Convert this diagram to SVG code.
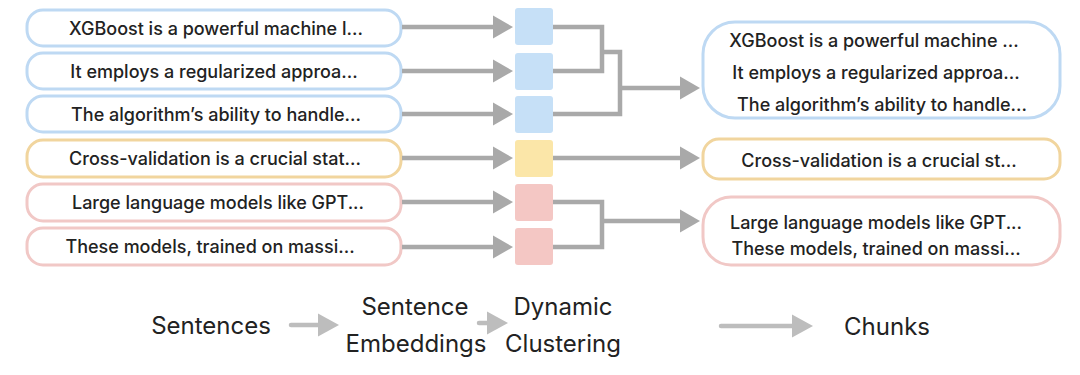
<svg xmlns="http://www.w3.org/2000/svg" width="1080" height="375" viewBox="0 0 1080 375">
<defs>
<marker id="ah" markerUnits="userSpaceOnUse" markerWidth="20" markerHeight="24" refX="0" refY="12" orient="auto">
<path d="M0,0.5 L20,12 L0,23.5 z" fill="#a9a9a9"/>
</marker>
<marker id="ah2" markerUnits="userSpaceOnUse" markerWidth="22" markerHeight="24" refX="0" refY="12" orient="auto">
<path d="M0,0.5 L21,12 L0,23.5 z" fill="#bdbdbd"/>
</marker>
<style>
.t{font-family:Inter,"Liberation Sans",sans-serif;font-size:18px;font-weight:500;fill:#222;text-anchor:middle;dominant-baseline:central}
.b{font-family:Inter,"Liberation Sans",sans-serif;font-size:24px;fill:#222;text-anchor:middle;dominant-baseline:central}
.bl{fill:#fff;stroke:#bed9f3;stroke-width:3}
.or{fill:#fff;stroke:#f1d59e;stroke-width:3}
.pk{fill:#fff;stroke:#f1c8c6;stroke-width:3}
.c{fill:none;stroke:#a9a9a9;stroke-width:4.5}
.c2{fill:none;stroke:#bdbdbd;stroke-width:4.5;stroke-linecap:round}
</style>
</defs>
<rect width="1080" height="375" fill="#fff"/>

<g id="s1"><rect class="bl" x="27" y="10" width="374" height="36" rx="16"/><text class="t" x="216" y="28">XGBoost is a powerful machine l...</text></g>
<g id="s2"><rect class="bl" x="27" y="53" width="374" height="36" rx="16"/><text class="t" x="214" y="71">It employs a regularized approa...</text></g>
<g id="s3"><rect class="bl" x="27" y="96" width="374" height="36" rx="16"/><text class="t" x="216" y="114">The algorithm’s ability to handle...</text></g>
<g id="s4"><rect class="or" x="27" y="140" width="374" height="37" rx="16"/><text class="t" x="215" y="158">Cross-validation is a crucial stat...</text></g>
<g id="s5"><rect class="pk" x="27" y="184" width="374" height="37" rx="16"/><text class="t" x="218" y="202">Large language models like GPT...</text></g>
<g id="s6"><rect class="pk" x="27" y="228" width="374" height="37" rx="16"/><text class="t" x="210" y="246">These models, trained on massi...</text></g>

<g id="e1"><rect x="515" y="8" width="38" height="37" rx="3" fill="#c6e0f7"/></g>
<g id="e2"><rect x="515" y="53" width="38" height="37" rx="3" fill="#c6e0f7"/></g>
<g id="e3"><rect x="515" y="96" width="38" height="37" rx="3" fill="#c6e0f7"/></g>
<g id="e4"><rect x="515" y="140" width="38" height="37" rx="3" fill="#fbe6a8"/></g>
<g id="e5"><rect x="515" y="184" width="38" height="37" rx="3" fill="#f4c7c4"/></g>
<g id="e6"><rect x="515" y="228" width="38" height="37" rx="3" fill="#f4c7c4"/></g>

<g id="k1"><rect class="bl" x="703" y="22" width="357" height="96" rx="32"/>
<text class="t" x="874" y="40">XGBoost is a powerful machine ...</text>
<text class="t" x="876" y="72">It employs a regularized approa...</text>
<text class="t" x="882" y="104">The algorithm’s ability to handle...</text></g>
<g id="k2"><rect class="or" x="703" y="139" width="357" height="40" rx="16"/><text class="t" x="879" y="160">Cross-validation is a crucial st...</text></g>
<g id="k3"><rect class="pk" x="703" y="197" width="357" height="68" rx="28"/>
<text class="t" x="876" y="222">Large language models like GPT...</text>
<text class="t" x="876" y="248">These models, trained on massi...</text></g>

<g id="connectors">
<path class="c" d="M402,27 H493" marker-end="url(#ah)"/>
<path class="c" d="M402,71 H493" marker-end="url(#ah)"/>
<path class="c" d="M402,114 H493" marker-end="url(#ah)"/>
<path class="c" d="M402,158 H493" marker-end="url(#ah)"/>
<path class="c" d="M402,202 H493" marker-end="url(#ah)"/>
<path class="c" d="M402,247 H493" marker-end="url(#ah)"/>
<path class="c" d="M553,27 H602 V71 H553"/>
<path class="c" d="M602,52 H620 V114 H553"/>
<path class="c" d="M620,88 H680" marker-end="url(#ah)"/>
<path class="c" d="M553,158 H680" marker-end="url(#ah)"/>
<path class="c" d="M553,202 H602 V247 H553"/>
<path class="c" d="M602,221 H680" marker-end="url(#ah)"/>
<path class="c2" d="M291,325 H318" marker-end="url(#ah2)"/>
<path class="c2" d="M479,323 H487" marker-end="url(#ah2)"/>
<path class="c2" d="M721,326 H792" marker-end="url(#ah2)"/>
</g>

<g id="labels">
<text class="b" x="211" y="325">Sentences</text>
<text class="b" x="415" y="306">Sentence</text>
<text class="b" x="416" y="343">Embeddings</text>
<text class="b" x="563" y="306">Dynamic</text>
<text class="b" x="563" y="343">Clustering</text>
<text class="b" x="887" y="326">Chunks</text>
</g>
</svg>
